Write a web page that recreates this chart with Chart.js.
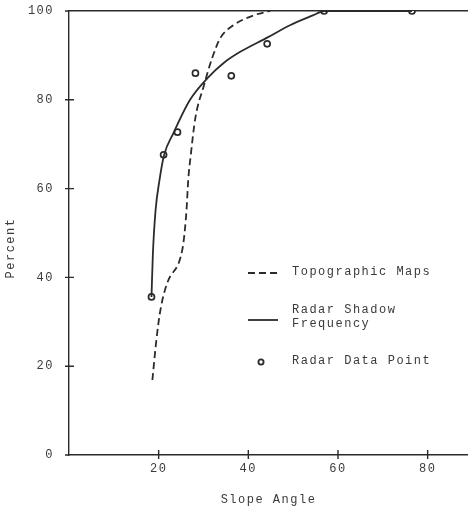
<!DOCTYPE html>
<html>
<head>
<meta charset="utf-8">
<script src="https://cdn.jsdelivr.net/npm/chart.js@4"></script>
<style>
  html, body { margin: 0; padding: 0; background: #fff; overflow: hidden; }
  canvas { display: block; }
</style>
</head>
<body>
<canvas id="c" width="468" height="511"></canvas>
<script>
// ---- data ----
const xTicks = [20, 40, 60, 80];
const yTicks = [0, 20, 40, 60, 80, 100];

const topoX = [18.6, 19.5, 20.4, 21.9, 24.9, 25.6, 26.2, 26.6, 27.1, 28.2, 30.0, 32.0, 33.8, 36.7, 41.1, 44.9];
const topoY = [16.9, 26.0, 32.7, 38.7, 44.6, 48.4, 55.0, 62.0, 67.0, 76.0, 82.9, 89.6, 94.0, 96.8, 99.0, 100];

const shadowX = [18.4, 18.7, 19.3, 20.2, 21.2, 23.3, 27.0, 31.0, 34.5, 38.2, 44.2, 49.3, 54.4, 56.9, 76.5];
const shadowY = [35.6, 45.0, 55.0, 62.0, 67.5, 72.5, 80.0, 85.0, 88.3, 90.8, 94.0, 96.8, 99.0, 100, 100];

const radarX = [18.4, 21.1, 24.2, 28.2, 36.2, 44.2, 56.9, 76.5];
const radarY = [35.6, 67.6, 72.7, 86.0, 85.4, 92.6, 100, 100];

const legendLabels = ["Topographic Maps", ["Radar Shadow", "Frequency"], "Radar Data Point"];
const yTitle = 'Percent';
const xTitle = 'Slope Angle';

const ink = '#2b2b2b';
const txt = '#3a3a3a';
const FONT = "'Liberation Mono', 'DejaVu Sans Mono', monospace";
const SPACING = '1.5px';

const pts = (xs, ys) => xs.map((x, i) => ({ x, y: ys[i] }));

const spacing = {
  id: 'spacing',
  beforeInit(chart) { chart.ctx.letterSpacing = SPACING; },
  beforeDraw(chart) { chart.ctx.letterSpacing = SPACING; }
};

const crossTicks = {
  id: 'crossTicks',
  afterDraw(chart) {
    const ctx = chart.ctx;
    const xs = chart.scales.x, ys = chart.scales.y;
    const ca = chart.chartArea;
    ctx.save();
    ctx.strokeStyle = ink;
    ctx.lineWidth = 1.4;
    ctx.beginPath();
    xTicks.forEach(v => {
      const px = xs.getPixelForValue(v);
      ctx.moveTo(px, ca.bottom - 5); ctx.lineTo(px, ca.bottom + 4);
    });
    yTicks.forEach(v => {
      const py = ys.getPixelForValue(v);
      ctx.moveTo(ca.left - 4, py); ctx.lineTo(ca.left + (v === 0 || v === 100 ? 0 : 5), py);
    });
    ctx.stroke();

    ctx.letterSpacing = SPACING;
    ctx.font = '12px ' + FONT;
    ctx.fillStyle = txt;

    // y-axis title (sits a little below the axis centre in the reference)
    ctx.save();
    ctx.translate(11, (ca.top + ca.bottom) / 2 + 15);
    ctx.rotate(-Math.PI / 2);
    ctx.textAlign = 'center';
    ctx.textBaseline = 'middle';
    ctx.fillText(yTitle, 0, 0);
    ctx.restore();

    // legend
    const lx = 248, tx = 292;
    ctx.textBaseline = 'middle';
    ctx.lineWidth = 1.8;
    ctx.setLineDash([7, 4]);
    ctx.beginPath(); ctx.moveTo(lx, 273); ctx.lineTo(lx + 30, 273); ctx.stroke();
    ctx.setLineDash([]);
    ctx.fillText(legendLabels[0], tx, 272);
    ctx.beginPath(); ctx.moveTo(lx, 320); ctx.lineTo(lx + 30, 320); ctx.stroke();
    ctx.fillText(legendLabels[1][0], tx, 310);
    ctx.fillText(legendLabels[1][1], tx, 324);
    ctx.beginPath(); ctx.arc(lx + 13, 362, 2.6, 0, Math.PI * 2); ctx.lineWidth = 1.8; ctx.stroke();
    ctx.fillText(legendLabels[2], tx, 361);
    ctx.restore();
  }
};

new Chart(document.getElementById('c'), {
  type: 'scatter',
  data: {
    datasets: [
      {
        label: 'Topographic Maps',
        data: pts(topoX, topoY),
        showLine: true,
        borderColor: ink,
        borderWidth: 1.8,
        borderDash: [7, 4],
        pointRadius: 0,
        cubicInterpolationMode: 'monotone',
        fill: false
      },
      {
        label: 'Radar Shadow Frequency',
        data: pts(shadowX, shadowY),
        showLine: true,
        borderColor: ink,
        borderWidth: 1.8,
        pointRadius: 0,
        cubicInterpolationMode: 'monotone',
        fill: false
      },
      {
        label: 'Radar Data Point',
        data: pts(radarX, radarY),
        showLine: false,
        pointRadius: 3,
        pointBorderWidth: 1.7,
        pointBorderColor: ink,
        pointBackgroundColor: '#fff'
      }
    ]
  },
  options: {
    responsive: false,
    animation: false,
    layout: { autoPadding: false, padding: { top: 11, right: 0, left: 0, bottom: 0 } },
    plugins: { legend: { display: false }, tooltip: { enabled: false } },
    scales: {
      x: {
        type: 'linear',
        min: 0, max: 89,
        afterFit(s) { s.height = 56; s.paddingLeft = 0; s.paddingRight = 0; },
        grid: { display: true, drawOnChartArea: false, drawTicks: false },
        border: { display: true, color: ink, width: 1.4 },
        ticks: {
          stepSize: 20, includeBounds: false, padding: 7,
          color: txt, font: { family: FONT, size: 12 },
          callback: v => (xTicks.includes(v) ? String(v) : '')
        },
        title: { display: true, text: xTitle, color: txt, font: { family: FONT, size: 12 }, padding: { top: 4, bottom: 4 } }
      },
      xTop: {
        type: 'linear', position: 'top', min: 0, max: 89,
        afterFit(s) { s.height = 0; s.paddingLeft = 0; s.paddingRight = 0; },
        grid: { display: true, drawOnChartArea: false, drawTicks: false },
        border: { display: true, color: ink, width: 1.4 },
        ticks: { display: false }
      },
      y: {
        type: 'linear',
        min: 0, max: 100,
        afterFit(s) { s.width = 69; s.paddingTop = 0; s.paddingBottom = 0; },
        grid: { display: true, drawOnChartArea: false, drawTicks: false },
        border: { display: true, color: ink, width: 1.4 },
        ticks: {
          stepSize: 20, padding: 15,
          color: txt, font: { family: FONT, size: 12 }
        },
        title: { display: false, text: yTitle }
      }
    }
  },
  plugins: [spacing, crossTicks]
});
</script>
</body>
</html>
